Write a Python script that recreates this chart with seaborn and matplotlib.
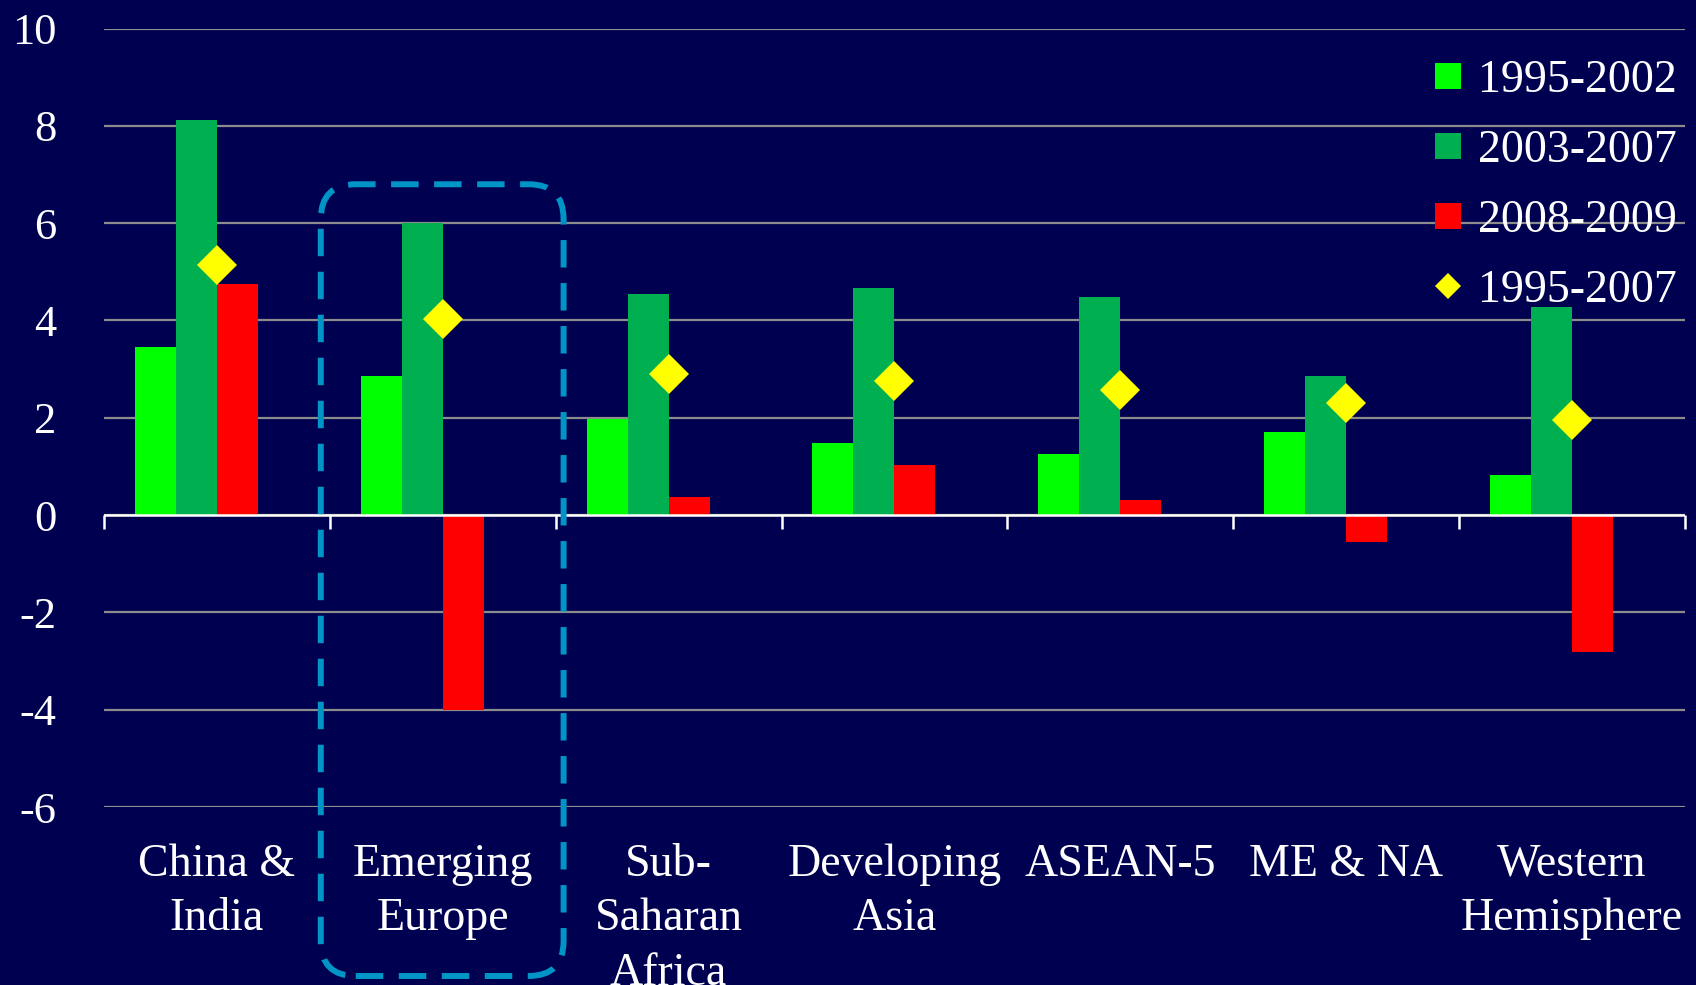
import numpy as np
import pandas as pd
import seaborn as sns
import matplotlib
matplotlib.use("Agg")
import matplotlib.pyplot as plt
from matplotlib.patches import FancyBboxPatch
from matplotlib.lines import Line2D
from matplotlib.transforms import IdentityTransform

# ---------------- data ----------------
regions = ["China &\nIndia", "Emerging\nEurope", "Sub-\nSaharan\nAfrica",
           "Developing\nAsia", "ASEAN-5", "ME & NA", "Western\nHemisphere"]
growth_1995_2002 = [3.46, 2.86, 1.97, 1.48, 1.25, 1.70, 0.83]
growth_2003_2007 = [8.12, 6.00, 4.55, 4.66, 4.48, 2.85, 4.28]
growth_2008_2009 = [4.75, -4.00, 0.37, 1.03, 0.32, -0.55, -2.81]
avg_1995_2007 = [5.15, 4.03, 2.90, 2.75, 2.57, 2.31, 1.96]
series_labels = ["1995-2002", "2003-2007", "2008-2009"]
avg_label = "1995-2007"
y_ticks = [-6, -4, -2, 0, 2, 4, 6, 8, 10]
y_tick_labels = ["-6", "-4", "-2", "0", "2", "4", "6", "8", "10"]

# ---------------- style ----------------
BG = "#000050"
C_LG = "#00FF00"
C_DG = "#00B050"
C_RED = "#FF0000"
C_YEL = "#FFFF00"
C_BOX = "#0095C6"
PAD_LEVEL = "_pad"

sns.set_style("white")
plt.rcParams["font.family"] = ["Liberation Serif", "DejaVu Serif"]

bars = pd.DataFrame({
    "region": regions * 3,
    "period": [series_labels[0]] * 7 + [series_labels[1]] * 7 + [series_labels[2]] * 7,
    "value": growth_1995_2002 + growth_2003_2007 + growth_2008_2009,
})
avg = pd.DataFrame({"region": regions, "avg": avg_1995_2007})

fig = plt.figure(figsize=(16.96, 9.85), dpi=100, facecolor=BG)
ax = fig.add_axes([0.0613, 0.1807, 0.9322, 0.7903])
ax.set_facecolor(BG)

sns.barplot(data=bars, x="region", y="value", hue="period", order=regions,
            hue_order=series_labels + [PAD_LEVEL],
            palette=[C_LG, C_DG, C_RED, BG], width=0.726, gap=0,
            saturation=1, errorbar=None, legend=False, linewidth=0, ax=ax)

sns.pointplot(data=avg, x="region", y="avg", order=regions, color=C_YEL,
              marker="D", linestyle="none", markersize=20, markeredgewidth=0,
              errorbar=None, ax=ax, zorder=5)

ax.set_xlim(-0.5, len(regions) - 0.5)
ax.set_ylim(-6, 10)
ax.set_yticks(y_ticks)
ax.set_yticklabels(y_tick_labels)
ax.set_xticks(range(len(regions)))
ax.set_xticklabels(regions)
ax.set_xlabel("")
ax.set_ylabel("")

ax.yaxis.grid(True, color="#8C8C8C", linewidth=1.6)
ax.xaxis.grid(False)
ax.set_axisbelow(True)
for s in ax.spines.values():
    s.set_visible(False)

ax.tick_params(axis="y", length=0, pad=34, labelsize=32, labelcolor="white")
ax.tick_params(axis="x", length=0, pad=26, labelsize=33, labelcolor="white")
for lab in ax.get_xticklabels():
    lab.set_linespacing(1.38)

# zero line with category-boundary ticks
ax.axhline(0, color="white", linewidth=1.8, zorder=4)
boundaries = np.arange(len(regions) + 1) - 0.5
ax.plot(boundaries, np.zeros_like(boundaries), ls="none", marker=3,
        markersize=10, markeredgewidth=1.8, color="white", clip_on=False, zorder=4)

# legend
handles = [Line2D([], [], ls="none", marker="s", ms=19, color=c, mew=0)
           for c in (C_LG, C_DG, C_RED)]
handles.append(Line2D([], [], ls="none", marker="D", ms=13, color=C_YEL, mew=0))
leg = ax.legend(handles, series_labels + [avg_label], loc="upper right",
                bbox_to_anchor=(1.012, 0.995), frameon=False, fontsize=33,
                labelcolor="white", handletextpad=0.25, labelspacing=0.6,
                handlelength=0.8, borderaxespad=0.2)

# dashed rounded highlight box around Emerging Europe
fig.canvas.draw()
x0 = ax.transData.transform((0.46, 0))[0]
x1 = ax.transData.transform((1.535, 0))[0]
y_top = ax.transData.transform((0, 6.8))[1]
y_bot = 9
box = FancyBboxPatch((x0, y_bot), x1 - x0, y_top - y_bot,
                     boxstyle="round,pad=0,rounding_size=35",
                     transform=IdentityTransform(), fill=False,
                     edgecolor=C_BOX, linewidth=4.3,
                     linestyle=(0, (4.6, 2.6)), zorder=10)
fig.add_artist(box)

fig.savefig("out.png", dpi=100, facecolor=BG)
